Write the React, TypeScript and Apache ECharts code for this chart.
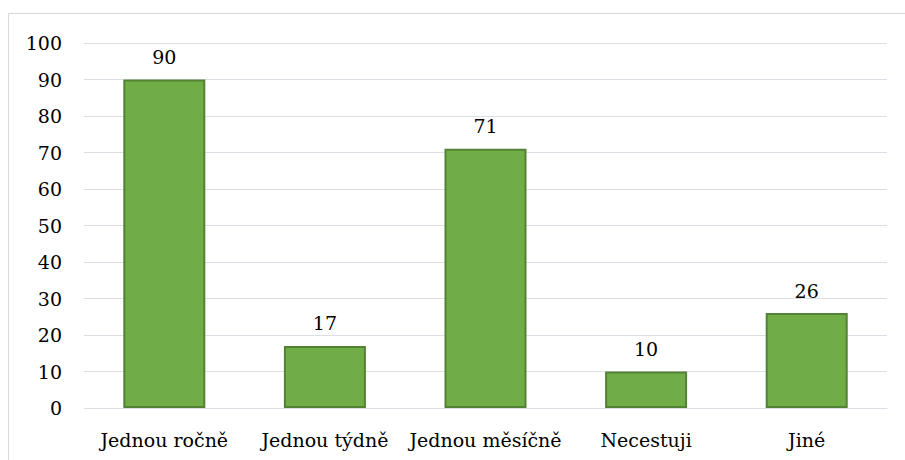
import React, { useEffect, useRef } from "react";
import * as echarts from "echarts";

// Travel frequency survey: number of respondents per answer
const categories = ["Jednou ročně", "Jednou týdně", "Jednou měsíčně", "Necestuji", "Jiné"];
const counts = [90, 17, 71, 10, 26];
const yTicks = { min: 0, max: 100, interval: 10 };

const FONT = "DejaVu Serif";
const FONT_SIZE = 19;
const GRID_COLOR = "#DADFE6";

export default function App() {
  const ref = useRef<HTMLDivElement>(null);

  useEffect(() => {
    document.body.style.margin = "0";
    if (!ref.current) return;
    const chart = echarts.init(ref.current, null, { renderer: "svg" });
    chart.setOption({
      animation: false,
      backgroundColor: "#ffffff",
      textStyle: { fontFamily: FONT },
      graphic: [
        {
          type: "rect",
          shape: { x: 8.5, y: 13.5, width: 1200, height: 1200 },
          style: { fill: "none", stroke: "#D9D9D9", lineWidth: 1 },
          silent: true,
        },
      ],
      grid: { left: 84, right: 18, top: 43, bottom: 52, containLabel: false },
      xAxis: {
        type: "category",
        data: categories,
        axisLine: { show: true, lineStyle: { color: GRID_COLOR, width: 1 } },
        axisTick: { show: false },
        axisLabel: { color: "#000", fontFamily: FONT, fontSize: FONT_SIZE, margin: 22, interval: 0 },
      },
      yAxis: {
        type: "value",
        min: yTicks.min,
        max: yTicks.max,
        interval: yTicks.interval,
        axisLine: { show: false },
        axisTick: { show: false },
        splitLine: { lineStyle: { color: GRID_COLOR, width: 1 } },
        axisLabel: { color: "#000", fontFamily: FONT, fontSize: FONT_SIZE, margin: 22 },
      },
      series: [
        {
          type: "bar",
          data: counts,
          barWidth: 82,
          itemStyle: { color: "#70AD47", borderColor: "#548235", borderWidth: 2 },
          label: {
            show: true,
            position: "top",
            distance: 13,
            color: "#000",
            fontFamily: FONT,
            fontSize: FONT_SIZE,
          },
        },
      ],
    });
    return () => chart.dispose();
  }, []);

  return <div ref={ref} style={{ width: 905, height: 460 }} />;
}
